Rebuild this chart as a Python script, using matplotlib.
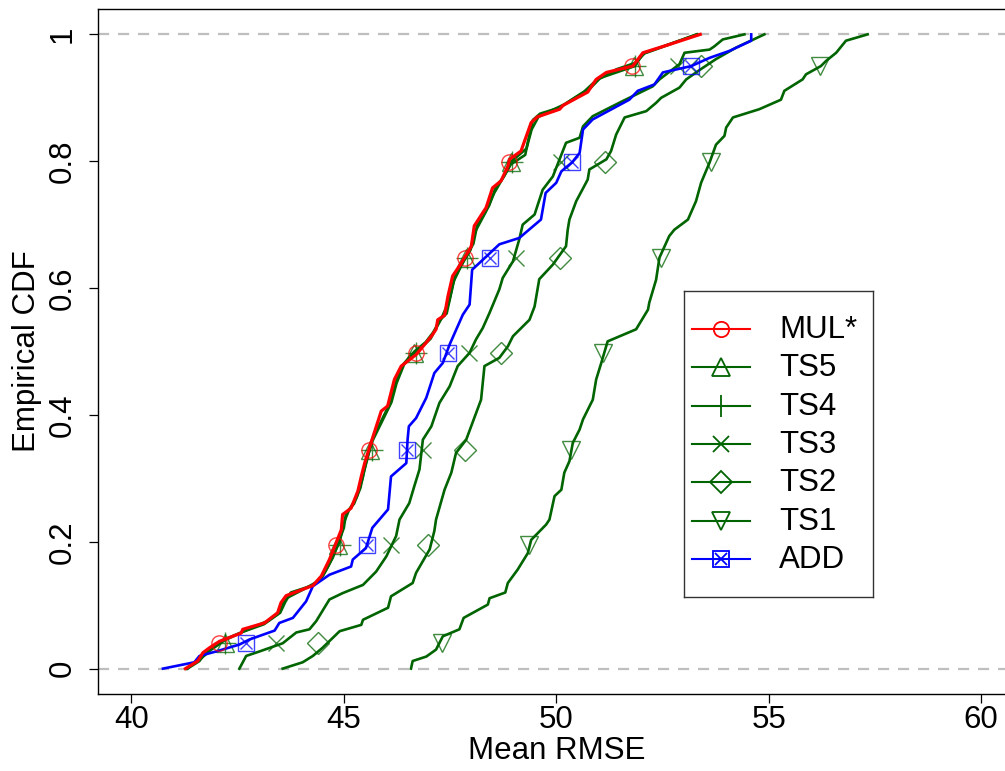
import matplotlib
matplotlib.use("Agg")
import matplotlib.pyplot as plt
from matplotlib.lines import Line2D

plt.rcParams['font.family'] = ['Liberation Sans', 'DejaVu Sans']

# ---------------- data ----------------
MUL_y = [0, 0.012, 0.025, 0.033, 0.043, 0.056, 0.062, 0.072, 0.088, 0.104, 0.115, 0.131, 0.146, 0.172, 0.192,
         0.219, 0.243, 0.253, 0.28, 0.303, 0.324, 0.348, 0.406, 0.414, 0.456, 0.477, 0.495, 0.511, 0.524, 0.535,
         0.55, 0.557, 0.587, 0.619, 0.635, 0.648, 0.666, 0.698, 0.727, 0.758, 0.769, 0.792, 0.803, 0.816, 0.861,
         0.870, 0.882, 0.888, 0.909, 0.929, 0.940, 0.950, 0.971, 0.984, 1.0]
MUL_x = [41.27, 41.56, 41.68, 41.84, 42.07, 42.58, 42.62, 43.13, 43.44, 43.52, 43.64, 44.27, 44.47, 44.66, 44.78,
         44.94, 44.97, 45.17, 45.33, 45.41, 45.49, 45.60, 45.88, 46.03, 46.19, 46.35, 46.70, 46.90, 47.06, 47.17,
         47.21, 47.37, 47.45, 47.56, 47.72, 47.84, 48.00, 48.07, 48.35, 48.50, 48.70, 48.86, 48.90, 49.17, 49.41,
         49.56, 50.08, 50.16, 50.74, 50.94, 51.18, 51.80, 52.04, 52.66, 53.39]

TS5_y = [0, 0.012, 0.025, 0.035, 0.045, 0.058, 0.07, 0.088, 0.105, 0.12, 0.132, 0.148, 0.175, 0.2, 0.222,
         0.245, 0.26, 0.285, 0.31, 0.33, 0.36, 0.40, 0.42, 0.46, 0.48, 0.5, 0.515, 0.53, 0.55, 0.56,
         0.59, 0.62, 0.64, 0.655, 0.67, 0.70, 0.73, 0.76, 0.775, 0.795, 0.81, 0.83, 0.865, 0.875, 0.885,
         0.895, 0.915, 0.93, 0.945, 0.955, 0.97, 0.985, 1.0]
TS5_x = [41.32, 41.60, 41.74, 41.92, 42.15, 42.62, 43.12, 43.50, 43.62, 43.75, 44.30, 44.52, 44.74, 44.88, 45.00,
         45.05, 45.24, 45.39, 45.47, 45.55, 45.66, 45.95, 46.10, 46.26, 46.40, 46.66, 46.93, 47.10, 47.27, 47.42,
         47.52, 47.62, 47.80, 47.92, 48.05, 48.14, 48.42, 48.58, 48.76, 48.93, 49.27, 49.33, 49.45, 49.62, 50.10,
         50.32, 50.80, 51.02, 51.42, 51.86, 52.08, 52.70, 53.30]

TS4_y = [0, 0.015, 0.03, 0.045, 0.06, 0.075, 0.09, 0.11, 0.125, 0.14, 0.16, 0.18, 0.2, 0.23, 0.25,
         0.27, 0.3, 0.33, 0.36, 0.39, 0.42, 0.45, 0.48, 0.5, 0.52, 0.55, 0.58, 0.61, 0.64, 0.66,
         0.69, 0.72, 0.75, 0.78, 0.8, 0.82, 0.85, 0.87, 0.89, 0.91, 0.93, 0.95, 0.97, 0.985, 1.0]
TS4_x = [41.30, 41.62, 41.88, 42.20, 42.68, 43.20, 43.50, 43.62, 44.05, 44.45, 44.62, 44.76, 44.90, 45.00, 45.12,
         45.30, 45.44, 45.54, 45.68, 45.90, 46.12, 46.24, 46.42, 46.72, 47.04, 47.28, 47.48, 47.58, 47.80, 47.98,
         48.10, 48.34, 48.54, 48.80, 48.95, 49.30, 49.42, 49.58, 50.20, 50.66, 50.98, 51.85, 52.05, 52.68, 53.32]

TS3_y = [0, 0.02, 0.027, 0.04, 0.057, 0.062, 0.075, 0.109, 0.119, 0.132, 0.153, 0.177, 0.209, 0.235, 0.261,
         0.288, 0.314, 0.361, 0.382, 0.419, 0.445, 0.477, 0.498, 0.519, 0.537, 0.561, 0.598, 0.616, 0.642, 0.677,
         0.70, 0.716, 0.755, 0.776, 0.829, 0.837, 0.855, 0.871, 0.895, 0.918, 0.929, 0.953, 0.971, 0.976, 0.981,
         0.992, 1.0]
TS3_x = [42.54, 42.70, 43.01, 43.56, 43.88, 44.19, 44.35, 44.66, 44.97, 45.45, 45.76, 46.00, 46.23, 46.31, 46.54,
         46.66, 46.78, 46.86, 47.06, 47.25, 47.49, 47.68, 47.96, 48.11, 48.27, 48.43, 48.66, 48.74, 48.98, 49.13,
         49.21, 49.49, 49.68, 49.92, 50.23, 50.55, 50.63, 50.86, 51.57, 52.27, 52.43, 52.90, 53.02, 53.61, 53.72,
         53.92, 54.43]

TS2_y = [0, 0.01, 0.02, 0.033, 0.059, 0.069, 0.077, 0.096, 0.114, 0.135, 0.151, 0.188, 0.217, 0.235, 0.282,
         0.309, 0.34, 0.361, 0.388, 0.424, 0.477, 0.49, 0.508, 0.524, 0.55, 0.571, 0.614, 0.637, 0.666, 0.692,
         0.708, 0.737, 0.771, 0.787, 0.803, 0.816, 0.842, 0.869, 0.879, 0.892, 0.9, 0.916, 0.929, 0.945, 0.961,
         0.979, 1.0]
TS2_x = [43.56, 44.03, 44.27, 44.50, 44.90, 45.41, 45.45, 46.04, 46.11, 46.62, 46.70, 47.02, 47.13, 47.17, 47.37,
         47.53, 47.64, 47.88, 48.03, 48.23, 48.31, 48.66, 48.86, 48.98, 49.37, 49.49, 49.60, 49.92, 50.23, 50.27,
         50.31, 50.47, 50.74, 50.78, 51.18, 51.29, 51.41, 51.61, 52.12, 52.35, 52.47, 52.90, 53.06, 53.40, 53.76,
         54.23, 54.90]

TS1_y = [0, 0.012, 0.019, 0.03, 0.051, 0.062, 0.08, 0.101, 0.111, 0.12, 0.135, 0.156, 0.182, 0.203, 0.227,
         0.235, 0.272, 0.282, 0.309, 0.327, 0.356, 0.377, 0.393, 0.424, 0.456, 0.482, 0.516, 0.535, 0.566, 0.577,
         0.613, 0.648, 0.682, 0.692, 0.708, 0.737, 0.766, 0.798, 0.826, 0.84, 0.853, 0.869, 0.882, 0.897, 0.911,
         0.929, 0.937, 0.95, 0.958, 0.971, 0.99, 1.0]
TS1_x = [46.58, 46.62, 46.94, 47.17, 47.33, 47.72, 47.82, 48.39, 48.43, 48.80, 48.86, 49.09, 49.33, 49.41, 49.76,
         49.84, 49.96, 50.12, 50.19, 50.31, 50.39, 50.55, 50.63, 50.86, 50.94, 51.06, 51.21, 51.88, 52.16, 52.19,
         52.35, 52.43, 52.66, 52.78, 53.10, 53.29, 53.41, 53.61, 53.76, 53.96, 54.00, 54.16, 54.78, 55.29, 55.37,
         55.80, 55.88, 56.23, 56.35, 56.59, 56.82, 57.33]

ADD_y = [0, 0.01, 0.02, 0.027, 0.038, 0.046, 0.06, 0.072, 0.08, 0.106, 0.13, 0.148, 0.161, 0.172, 0.19,
         0.222, 0.251, 0.303, 0.324, 0.361, 0.382, 0.395, 0.427, 0.466, 0.482, 0.511, 0.558, 0.574, 0.629, 0.642,
         0.669, 0.679, 0.708, 0.75, 0.766, 0.784, 0.798, 0.813, 0.85, 0.866, 0.897, 0.911, 0.921, 0.94, 0.95,
         0.963, 0.974, 0.99, 1.0]
ADD_x = [40.74, 41.48, 41.60, 41.99, 42.54, 42.78, 43.37, 43.48, 43.80, 44.11, 44.27, 44.66, 45.17, 45.21, 45.52,
         45.67, 46.04, 46.11, 46.47, 46.50, 46.53, 46.70, 46.94, 47.13, 47.33, 47.49, 47.80, 47.96, 48.02, 48.23,
         48.66, 49.13, 49.64, 49.75, 50.00, 50.12, 50.37, 50.55, 50.63, 50.86, 51.72, 51.92, 52.31, 52.51, 53.18,
         53.61, 54.08, 54.59, 54.59]

# marker positions (CDF level shared, x per series)
MARK_Y = [0.04, 0.195, 0.345, 0.497, 0.648, 0.798, 0.95]
MUL_mx = [42.05, 44.82, 45.60, 46.70, 47.84, 48.88, 51.79]
TS5_mx = [42.19, 44.86, 45.62, 46.66, 47.88, 48.93, 51.82]
TS4_mx = [42.20, 44.90, 45.66, 46.70, 47.90, 48.95, 51.85]
TS3_mx = [43.41, 46.11, 46.87, 47.94, 49.06, 50.12, 52.86]
TS2_mx = [44.39, 46.98, 47.86, 48.70, 50.08, 51.15, 53.41]
TS1_mx = [47.31, 49.35, 50.35, 51.11, 52.47, 53.65, 56.21]
ADD_mx = [42.70, 45.55, 46.48, 47.45, 48.44, 50.37, 53.18]

legend_labels = ["MUL*", "TS5", "TS4", "TS3", "TS2", "TS1", "ADD"]
x_ticks = [40, 45, 50, 55, 60]
y_ticks = [0, 0.2, 0.4, 0.6, 0.8, 1]
y_tick_labels = ["0", "0.2", "0.4", "0.6", "0.8", "1"]

# ---------------- styles ----------------
RED, GREEN, BLUE = "#FF0000", "#006400", "#0000FF"
FS = 22.5
W, H = 1005, 771
fig = plt.figure(figsize=(W / 100, H / 100), dpi=100)
L, R_, T, B = 97.5, 1015, 9, 694
ax = fig.add_axes([L / W, 1 - B / H, (R_ - L) / W, (B - T) / H])
ax.set_xlim(39.2, 60.8)
ax.set_ylim(-0.04, 1.04)

for yv in (0, 1):
    ax.axhline(yv, color="#BEBEBE", lw=1.6, ls=(0, (5, 4)), zorder=1)

series = [
    (TS1_x, TS1_y, TS1_mx, GREEN, 1.9, dict(marker="v", ms=13)),
    (TS2_x, TS2_y, TS2_mx, GREEN, 1.9, dict(marker="D", ms=11)),
    (TS3_x, TS3_y, TS3_mx, GREEN, 1.9, dict(marker="x", ms=12)),
    (TS4_x, TS4_y, TS4_mx, GREEN, 1.9, dict(marker="+", ms=16)),
    (TS5_x, TS5_y, TS5_mx, GREEN, 1.9, dict(marker="^", ms=13)),
    (ADD_x, ADD_y, ADD_mx, BLUE, 1.9, dict(marker="s", ms=11)),
    (MUL_x, MUL_y, MUL_mx, RED, 2.3, dict(marker="o", ms=11)),
]
for i, (xs, ys, mx, col, lw, mk) in enumerate(series):
    ax.plot(xs, ys, color=col, lw=lw, solid_joinstyle="round", zorder=3 + i)
    ax.plot(mx, MARK_Y, ls="none", color=col, mfc="none", mec=col, mew=1.0, alpha=0.75,
            zorder=3 + i, **mk)
    if col == BLUE:
        ax.plot(mx, MARK_Y, ls="none", marker="x", ms=9, mec=col, mew=1.0, alpha=0.75, zorder=3 + i)

ax.set_xticks(x_ticks)
ax.set_xticklabels([str(v) for v in x_ticks])
ax.set_yticks(y_ticks)
ax.set_yticklabels(y_tick_labels, rotation=90, va="center")
ax.tick_params(axis="both", direction="out", length=6.5, width=0.9, labelsize=FS, colors="black")
ax.tick_params(axis="x", pad=1.5)
ax.tick_params(axis="y", pad=8)
for s in ax.spines.values():
    s.set_linewidth(1.0)

ax.set_xlabel("Mean RMSE", fontsize=FS)
ax.xaxis.set_label_coords(0.5, (694 - 736) / (B - T), transform=ax.transAxes)
ax.xaxis.label.set_va("top")
ax.set_ylabel("Empirical CDF", fontsize=FS)
ax.yaxis.set_label_coords((42 - L) / (R_ - L), 0.5, transform=ax.transAxes)

# ---------------- legend box (pixel layout) ----------------
lx0, lx1, ly0, ly1 = 684, 873, 291, 597
lax = fig.add_axes([lx0 / W, 1 - ly1 / H, (lx1 - lx0) / W, (ly1 - ly0) / H])
lax.set_xlim(0, lx1 - lx0)
lax.set_ylim(ly1 - ly0, 0)
lax.set_xticks([])
lax.set_yticks([])
lax.patch.set_facecolor("white")
for s in lax.spines.values():
    s.set_linewidth(1.0)
    s.set_color("#333333")
leg_styles = [(RED, "o", 11), (GREEN, "^", 13), (GREEN, "+", 16), (GREEN, "x", 12),
              (GREEN, "D", 11), (GREEN, "v", 13), (BLUE, "s", 11)]
for k, (lab, (col, mk, ms)) in enumerate(zip(legend_labels, leg_styles)):
    yy = 38 + k * 38.3
    lax.add_line(Line2D([8, 66], [yy, yy], color=col, lw=1.5))
    lax.plot([37], [yy], marker=mk, ms=ms, mfc="none", mec=col, mew=1.3, ls="none")
    if col == BLUE:
        lax.plot([37], [yy], marker="x", ms=9, mec=col, mew=1.3, ls="none")
    lax.text(95, yy + 1, lab, fontsize=FS, va="center", ha="left")

fig.savefig("out.png", dpi=100)
